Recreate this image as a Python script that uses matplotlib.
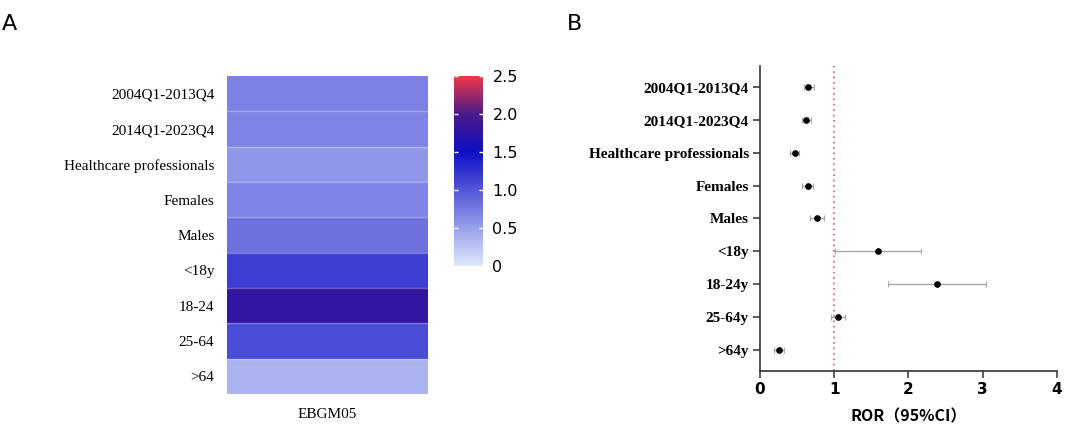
import matplotlib
matplotlib.use("Agg")
import matplotlib.pyplot as plt
import numpy as np
from matplotlib.colors import LinearSegmentedColormap

# Panel A: EBGM05 heatmap
heat_labels = ["2004Q1-2013Q4", "2014Q1-2023Q4", "Healthcare professionals",
               "Females", "Males", "<18y", "18-24", "25-64", ">64"]
ebgm05 = [0.71, 0.69, 0.56, 0.69, 0.82, 1.17, 1.80, 1.07, 0.37]

# Panel B: ROR forest plot
forest_labels = ["2004Q1-2013Q4", "2014Q1-2023Q4", "Healthcare professionals",
                 "Females", "Males", "<18y", "18-24y", "25-64y", ">64y"]
ror = [0.65, 0.62, 0.47, 0.64, 0.77, 1.59, 2.38, 1.05, 0.25]
ror_lo = [0.59, 0.56, 0.41, 0.57, 0.68, 1.01, 1.72, 0.95, 0.19]
ror_hi = [0.73, 0.69, 0.53, 0.71, 0.86, 2.17, 3.05, 1.14, 0.32]

cmap = LinearSegmentedColormap.from_list(
    "ebgm", [(0.0, "#dde8fb"), (0.6, "#0e0ec8"), (0.8, "#4a1a88"), (1.0, "#f2384a")])

fig = plt.figure(figsize=(10.65, 4.28), dpi=100)

# ---- A ----
ax_h = fig.add_axes([0.213, 0.0794, 0.189, 0.743])
data = np.array(ebgm05).reshape(-1, 1)
mesh = ax_h.pcolormesh(data, cmap=cmap, vmin=0, vmax=2.5, edgecolors="none")
# thin light separators between rows only
for k in range(1, len(heat_labels)):
    ax_h.axhline(k, color="white", alpha=0.3, linewidth=1.0)
ax_h.set_xlim(0, 1)
ax_h.set_ylim(len(heat_labels), 0)
ax_h.set_yticks(np.arange(len(heat_labels)) + 0.5)
ax_h.set_yticklabels(heat_labels, family="Liberation Serif", fontsize=11)
ax_h.set_xticks([0.5])
ax_h.set_xticklabels(["EBGM05"], family="Liberation Serif", fontsize=11)
ax_h.tick_params(axis="y", length=0, pad=9)
ax_h.tick_params(axis="x", length=0, pad=10)
for s in ax_h.spines.values():
    s.set_visible(False)

cax = fig.add_axes([0.426, 0.3785, 0.0272, 0.444])
cbar = fig.colorbar(mesh, cax=cax)
cbar.outline.set_visible(False)
cbar.set_ticks([0, 0.5, 1.0, 1.5, 2.0, 2.5])
cbar.set_ticklabels(["0", "0.5", "1.0", "1.5", "2.0", "2.5"])
cax.tick_params(left=True, right=True, labelleft=False, labelright=True,
                direction="in", color="white", length=3, width=1,
                labelsize=11.5, pad=7)

fig.text(0.002, 0.945, "A", fontsize=16, va="center", ha="left")

# ---- B ----
ax_f = fig.add_axes([0.7136, 0.1332, 0.2789, 0.7126])
y = np.arange(len(forest_labels))
err = [np.array(ror) - np.array(ror_lo), np.array(ror_hi) - np.array(ror)]
ax_f.errorbar(ror, y, xerr=err, fmt="none", ecolor="#a8a8a8", elinewidth=1,
              capsize=2, capthick=0.8, zorder=2)
ax_f.plot(ror, y, "o", color="black", markersize=3.8, zorder=3)
ax_f.axvline(1, color="#e8707c", linestyle=(0, (1, 2)), linewidth=1.3, zorder=1)
ax_f.set_xlim(0, 4)
ax_f.set_ylim(len(forest_labels) - 0.35, -0.65)
ax_f.set_yticks(y)
ax_f.set_yticklabels(forest_labels, family="Liberation Serif", fontweight="bold",
                     fontsize=11)
ax_f.set_xticks([0, 1, 2, 3, 4])
for lab in ax_f.get_xticklabels():
    lab.set_fontweight("bold")
    lab.set_fontsize(11)
ax_f.set_xlabel("ROR（95%CI）", family=["Noto Sans CJK SC", "DejaVu Sans"],
                fontsize=11.5, fontweight="bold", labelpad=8)
for side in ["top", "right"]:
    ax_f.spines[side].set_visible(False)
for side in ["left", "bottom"]:
    ax_f.spines[side].set_linewidth(1.2)
    ax_f.spines[side].set_color("#333333")
ax_f.tick_params(axis="both", direction="out", length=5, width=1.1,
                 color="#333333", pad=3)

fig.text(0.532, 0.945, "B", fontsize=16, va="center", ha="left")

fig.savefig("out.png", dpi=100)
